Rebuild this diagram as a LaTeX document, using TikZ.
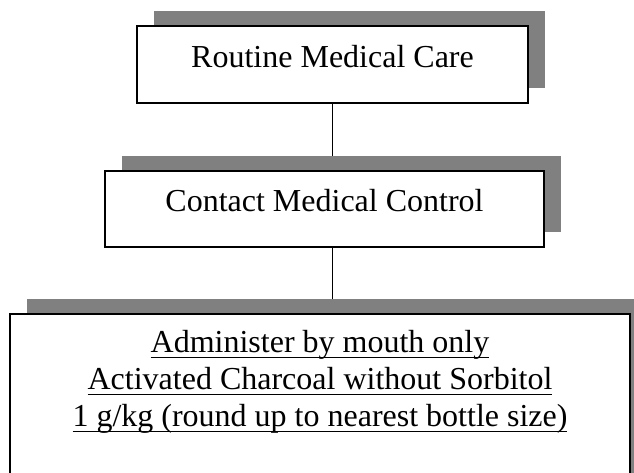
\documentclass[tikz,border=0pt]{standalone}
\usepackage{fontspec}
\setmainfont{Liberation Serif}
\usetikzlibrary{shadows,positioning}
\pgfdeclarelayer{background}
\pgfsetlayers{background,main}
\newcommand{\undl}[1]{\setbox0\hbox{#1}\rlap{\rule[-5.5pt]{\wd0}{1.4pt}}\box0}

\begin{document}
\begin{tikzpicture}[x=1pt,y=1pt,
    stepbox/.style={draw, line width=1.5pt, fill=white, inner sep=0pt,
      drop shadow={shadow xshift=17pt, shadow yshift=15pt, fill=gray, opacity=1},
      font=\fontsize{32}{37}\selectfont, align=center}]
    \useasboundingbox (0,0) rectangle (634,473);

    % Cajas del protocolo
    \node[stepbox, minimum width=391pt, text height=42pt, text depth=35pt] (care) at (332.5,408.5) {Routine Medical Care};
    \node[stepbox, minimum width=439pt, text height=41pt, text depth=35pt] (control) at (324.5,264) {Contact Medical Control};
    \node[stepbox, minimum width=620pt, text height=113pt, text depth=67pt] (admin) at (320,69) {\undl{Administer by mouth only}\\
      \undl{Activated Charcoal without Sorbitol}\\
      \undl{1 g/kg (round up to nearest bottle size)}};

    % Conectores
    \begin{pgfonlayer}{background}
        \draw[line width=1.3pt] (care.south) -- (care.south |- control.north);
        \draw[line width=1.3pt] (care.south |- control.south) -- (care.south |- admin.north);
    \end{pgfonlayer}
\end{tikzpicture}
\end{document}
